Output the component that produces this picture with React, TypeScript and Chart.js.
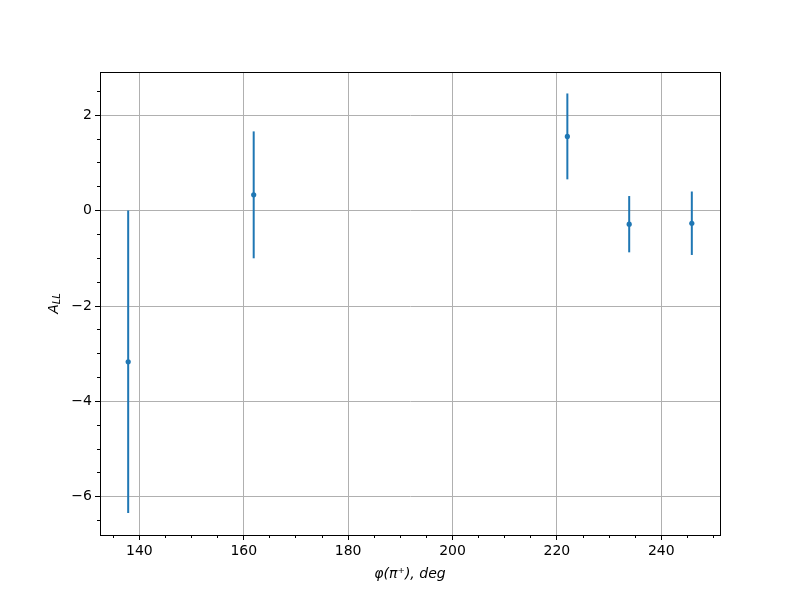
import React, { useEffect, useRef } from "react";
import { Chart, registerables } from "chart.js";

Chart.register(...registerables);

// Data
const phiDeg = [137.85, 161.9, 222.0, 233.85, 245.85];
const aLL = [-3.17, 0.33, 1.555, -0.285, -0.265];
const aLLErr = [3.17, 1.33, 0.9, 0.59, 0.665];

// Axes
const xMajorTicks = [140, 160, 180, 200, 220, 240];
const yMajorTicks = [-6, -4, -2, 0, 2];
const xRange = [132.45, 251.25];
const yRange = [-6.8, 2.905];
const xMinorStep = 5;
const yMinorStep = 0.5;

const COLOR = "#1f77b4";
const FONT = "DejaVu Sans";

const fmt = (v: number) => (v < 0 ? "\u2212" + Math.abs(v) : String(v));

const errorBarPlugin = {
  id: "errorBars",
  beforeDatasetsDraw(chart: any) {
    const { ctx, scales } = chart;
    const x = scales.x;
    const y = scales.y;
    ctx.save();
    ctx.strokeStyle = COLOR;
    ctx.lineWidth = 2;
    for (let i = 0; i < phiDeg.length; i++) {
      const px = x.getPixelForValue(phiDeg[i]);
      ctx.beginPath();
      ctx.moveTo(px, y.getPixelForValue(aLL[i] - aLLErr[i]));
      ctx.lineTo(px, y.getPixelForValue(aLL[i] + aLLErr[i]));
      ctx.stroke();
    }
    ctx.restore();
  },
};

const framePlugin = {
  id: "frame",
  afterDraw(chart: any) {
    const { ctx, chartArea, scales } = chart;
    const { left, right, top, bottom } = chartArea;
    ctx.save();
    // minor ticks
    ctx.strokeStyle = "#000";
    ctx.lineWidth = 1;
    const xs = scales.x;
    const ys = scales.y;
    const x0 = Math.ceil(xs.min / xMinorStep) * xMinorStep;
    for (let v = x0; v <= xs.max; v += xMinorStep) {
      if (xMajorTicks.includes(v)) continue;
      const px = Math.round(xs.getPixelForValue(v) - 0.5) + 0.5;
      ctx.beginPath();
      ctx.moveTo(px, bottom);
      ctx.lineTo(px, bottom + 3);
      ctx.stroke();
    }
    const y0 = Math.ceil(ys.min / yMinorStep) * yMinorStep;
    for (let v = y0; v <= ys.max; v += yMinorStep) {
      if (yMajorTicks.some((t) => Math.abs(t - v) < 1e-9)) continue;
      const py = Math.round(ys.getPixelForValue(v) - 0.5) + 0.5;
      ctx.beginPath();
      ctx.moveTo(left, py);
      ctx.lineTo(left - 3, py);
      ctx.stroke();
    }
    // frame
    ctx.strokeStyle = "#000";
    ctx.lineWidth = 1;
    ctx.strokeRect(Math.round(left) + 0.5, Math.round(top) + 0.5, Math.round(right - left), Math.round(bottom - top));

    // axis titles
    ctx.fillStyle = "#000";
    ctx.textBaseline = "middle";
    ctx.textAlign = "center";
    ctx.font = `italic 14px ${FONT}`;
    ctx.fillText("\u03c6(\u03c0\u207a), deg", (left + right) / 2, 574);

    // y title: A with subscript LL
    ctx.save();
    ctx.translate(54, (top + bottom) / 2);
    ctx.rotate(-Math.PI / 2);
    ctx.font = `italic 14px ${FONT}`;
    const wA = ctx.measureText("A").width;
    ctx.font = `italic 10px ${FONT}`;
    const wL = ctx.measureText("LL").width;
    const total = wA + wL;
    ctx.textAlign = "left";
    ctx.font = `italic 14px ${FONT}`;
    ctx.fillText("A", -total / 2, 0);
    ctx.font = `italic 10px ${FONT}`;
    ctx.fillText("LL", -total / 2 + wA, 3);
    ctx.restore();

    ctx.restore();
  },
};

export default function App() {
  const ref = useRef<HTMLCanvasElement | null>(null);

  useEffect(() => {
    document.body.style.margin = "0";
    const canvas = ref.current;
    if (!canvas) return;
    const axisCommon = {
      type: "linear" as const,
      grid: {
        color: "#b0b0b0",
        lineWidth: 1,
        tickColor: "#000",
        tickLength: 5,
        tickWidth: 1,
      },
      border: { color: "#000", width: 1 },
      ticks: {
        color: "#000",
        font: { family: FONT, size: 14 },
        padding: 3,
        autoSkip: false,
        maxRotation: 0,
        callback: (v: any) => fmt(Number(v)),
      },
    };
    const chart = new Chart(canvas, {
      type: "scatter",
      data: {
        datasets: [
          {
            data: phiDeg.map((x, i) => ({ x, y: aLL[i] })),
            backgroundColor: COLOR,
            borderColor: COLOR,
            borderWidth: 0,
            pointRadius: 2.6,
            showLine: false,
          },
        ],
      },
      options: {
        responsive: false,
        animation: false,
        devicePixelRatio: 1,
        layout: { padding: { top: 72, right: 80, left: 0, bottom: 0 } },
        plugins: { legend: { display: false }, tooltip: { enabled: false } },
        scales: {
          x: {
            ...axisCommon,
            min: xRange[0],
            max: xRange[1],
            afterBuildTicks: (s: any) => {
              s.ticks = xMajorTicks.map((v) => ({ value: v }));
            },
            afterFit: (s: any) => {
              s.height = 65;
            },
          },
          y: {
            ...axisCommon,
            min: yRange[0],
            max: yRange[1],
            afterBuildTicks: (s: any) => {
              s.ticks = yMajorTicks.map((v) => ({ value: v }));
            },
            afterFit: (s: any) => {
              s.width = 100;
            },
          },
        },
      } as any,
      plugins: [errorBarPlugin, framePlugin],
    });
    return () => chart.destroy();
  }, []);

  return (
    <div style={{ position: "absolute", left: 0, top: 0, width: 800, height: 600, background: "#fff" }}>
      <canvas ref={ref} width={800} height={600} />
    </div>
  );
}
